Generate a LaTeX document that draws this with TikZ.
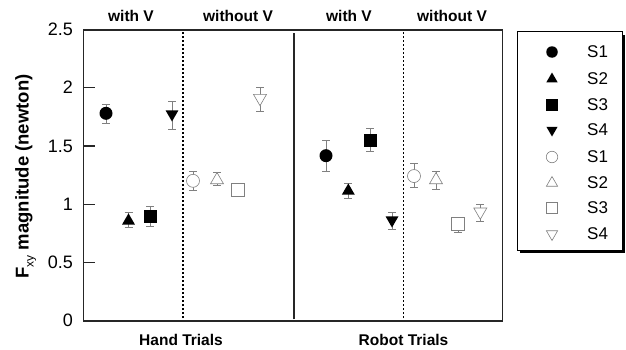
\documentclass[tikz,border=0pt]{standalone}
\usepackage{fontspec}
\setmainfont{Liberation Sans}
\usetikzlibrary{shapes.geometric}
\newcommand\errbar[3]{\draw[ebar] (#1-4,#2) -- (#1+4,#2) (#1,#2) -- (#1,#3) (#1-4,#3) -- (#1+4,#3);}
\begin{document}
\begin{tikzpicture}[x=1pt,y=1pt,
  frame/.style={line width=1.5pt, draw=black!85},
  tickmark/.style={line width=1.2pt, draw=black!85},
  ebar/.style={draw=black!50, line width=0.7pt},
  mk/.style={inner sep=0pt, outer sep=0pt},
  fcirc/.style={mk, circle, fill=black, minimum size=#1},
  fsq/.style={mk, rectangle, fill=black, minimum size=#1},
  ftri/.style={mk, regular polygon, regular polygon sides=3, fill=black, minimum size=#1},
  fdtri/.style={ftri=#1, shape border rotate=180},
  ocirc/.style={mk, circle, draw=black!50, fill=white, line width=0.6pt, minimum size=#1},
  osq/.style={mk, rectangle, draw=black!50, fill=white, line width=0.6pt, minimum size=#1},
  otri/.style={mk, regular polygon, regular polygon sides=3, draw=black!50, fill=white, line width=0.6pt, minimum size=#1},
  odtri/.style={otri=#1, shape border rotate=180},
  ticklab/.style={anchor=east, font=\fontsize{18}{20}\selectfont, inner sep=0pt},
  toplab/.style={anchor=base, font=\fontsize{15.5}{18}\selectfont\bfseries, inner sep=0pt},
  leglab/.style={anchor=west, font=\fontsize{17}{19}\selectfont, inner sep=0pt},
  divsolid/.style={line width=1.5pt, draw=black!85},
  divdash/.style={line width=1.3pt, draw=black, dash pattern=on 2pt off 2pt}
]
\useasboundingbox (0,0) rectangle (626,349);

% plot frame
\draw[frame] (83.5,28) rectangle (502.5,319);

% y axis label
\node[anchor=base, rotate=90, inner sep=0pt] (ylab) at (28.5,172.5)
  {\fontsize{18.5}{20}\selectfont\bfseries F\raisebox{-5pt}{\fontsize{12}{12}\selectfont\mdseries xy} magnitude (newton)};

% top and bottom labels
\node[toplab] (t1) at (131,327) {with V};
\node[toplab] (t2) at (238,327) {without V};
\node[toplab] (t3) at (349,327) {with V};
\node[toplab] (t4) at (452,327) {without V};
\node[toplab] (b1) at (181,4) {Hand Trials};
\node[toplab] (b2) at (403.5,4) {Robot Trials};

\begin{scope}[shift={(0,28.5)}, y=116.4pt]
  % ticks and tick labels
  \foreach \v in {0.5,1,1.5,2}
    \draw[tickmark] (83.5,\v) -- (95,\v);
  \foreach \v/\t in {0/0,0.5/0.5,1/1,1.5/1.5,2/2,2.5/2.5}
    \node[ticklab] (tl\t) at (73,\v) {\t};

  % dividers
  \draw[divdash] (183,0.02) -- (183,2.48);
  \draw[divsolid] (294,0.01) -- (294,2.47);
  \draw[divdash] (403.3,0.02) -- (403.3,2.48);

  % error bars
  \errbar{106}{1.69}{1.86}
  \errbar{128.5}{0.80}{0.93}
  \errbar{150}{0.81}{0.98}
  \errbar{172}{1.64}{1.88}
  \errbar{193}{1.12}{1.28}
  \errbar{217}{1.16}{1.27}
  \errbar{260}{1.80}{2.00}
  \errbar{326}{1.28}{1.545}
  \errbar{348.3}{1.05}{1.18}
  \errbar{370.3}{1.45}{1.65}
  \errbar{392}{0.78}{0.93}
  \errbar{414}{1.145}{1.35}
  \errbar{436}{1.13}{1.285}
  \errbar{458}{0.76}{0.885}
  \errbar{480.3}{0.855}{1.0}

  % hand, with V
  \node[fcirc=13pt] (h1) at (106,1.78) {};
  \node[ftri=15pt] (h2) at (128.5,0.856) {};
  \node[fsq=13pt] (h3) at (150,0.897) {};
  \node[fdtri=15pt] (h4) at (172,1.774) {};
  % hand, without V
  \node[ocirc=13pt] (hn1) at (193,1.2) {};
  \node[otri=15pt] (hn2) at (217,1.207) {};
  \node[osq=13pt] (hn3) at (238,1.127) {};
  \node[odtri=15pt] (hn4) at (260,1.91) {};
  % robot, with V
  \node[fcirc=13pt] (r1) at (326,1.416) {};
  \node[ftri=15pt] (r2) at (348.3,1.113) {};
  \node[fsq=13pt] (r3) at (370.3,1.55) {};
  \node[fdtri=15pt] (r4) at (392,0.863) {};
  % robot, without V
  \node[ocirc=13pt] (rn1) at (414,1.241) {};
  \node[otri=15pt] (rn2) at (436,1.207) {};
  \node[osq=13pt] (rn3) at (458,0.834) {};
  \node[odtri=15pt] (rn4) at (480.3,0.934) {};
\end{scope}

% legend
\fill[black] (520,96) rectangle (625,314);
\draw[fill=white, line width=1pt] (517,99) rectangle (622,317);
\node[fcirc=11.5pt] (l1) at (552,297) {};
\node[ftri=13pt] (l2) at (552,270) {};
\node[fsq=11.5pt] (l3) at (552,244) {};
\node[fdtri=13pt] (l4) at (552,219) {};
\node[ocirc=11.5pt] (l5) at (552,192) {};
\node[otri=13pt] (l6) at (552,166) {};
\node[osq=11.5pt] (l7) at (552,141) {};
\node[odtri=13pt] (l8) at (552,115) {};
\node[leglab] (s1) at (587,297) {S1};
\node[leglab] (s2) at (587,270) {S2};
\node[leglab] (s3) at (587,244) {S3};
\node[leglab] (s4) at (587,219) {S4};
\node[leglab] (s5) at (587,192) {S1};
\node[leglab] (s6) at (587,166) {S2};
\node[leglab] (s7) at (587,141) {S3};
\node[leglab] (s8) at (587,115) {S4};
\end{tikzpicture}
\end{document}
